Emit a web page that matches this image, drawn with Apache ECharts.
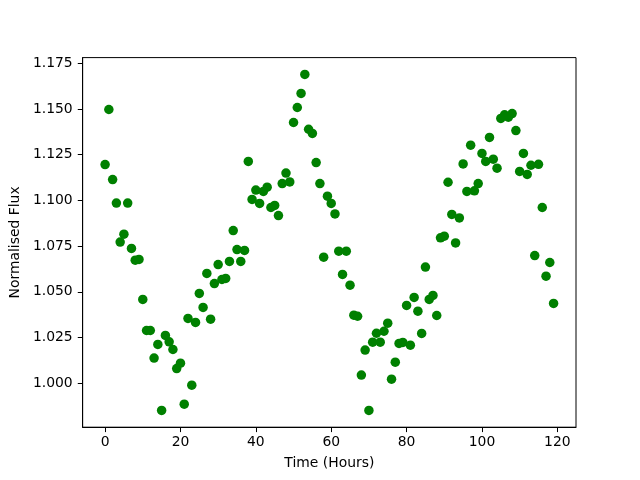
<!DOCTYPE html>
<html>
<head>
<meta charset="utf-8">
<script src="https://cdn.jsdelivr.net/npm/echarts@6/dist/echarts.min.js"></script>
<style>
  html, body { margin: 0; padding: 0; background: #fff; }
  #chart { width: 640px; height: 480px; }
</style>
</head>
<body>
<div id="chart"></div>
<script>
// flux, one reading per hour (0..119)
const hours = Array.from({ length: 120 }, (_, i) => i);
const flux = [
  1.1196, 1.1497, 1.1114, 1.0985, 1.0772, 1.0815, 1.0985, 1.0737, 1.0673, 1.0677,
  1.0458, 1.0288, 1.0288, 1.0137, 1.0212, 0.9851, 1.0261, 1.0226, 1.0184, 1.0080,
  1.0109, 0.9885, 1.0354, 0.9989, 1.0332, 1.0491, 1.0414, 1.0600, 1.0350, 1.0545,
  1.0649, 1.0567, 1.0573, 1.0666, 1.0835, 1.0731, 1.0666, 1.0726, 1.1213, 1.1005,
  1.1056, 1.0983, 1.1049, 1.1072, 1.0961, 1.0972, 1.0917, 1.1092, 1.1149, 1.1101,
  1.1426, 1.1508, 1.1585, 1.1689, 1.1389, 1.1366, 1.1207, 1.1092, 1.0689, 1.1023,
  1.0983, 1.0926, 1.0722, 1.0595, 1.0722, 1.0536, 1.0372, 1.0366, 1.0044, 1.0181,
  0.9851, 1.0224, 1.0273, 1.0224, 1.0284, 1.0328, 1.0022, 1.0115, 1.0217, 1.0223,
  1.0425, 1.0208, 1.0469, 1.0394, 1.0272, 1.0635, 1.0458, 1.0480, 1.0370, 1.0795,
  1.0804, 1.1099, 1.0923, 1.0767, 1.0904, 1.1199, 1.1049, 1.1302, 1.1052, 1.1092,
  1.1257, 1.1213, 1.1344, 1.1225, 1.1176, 1.1448, 1.1468, 1.1455, 1.1475, 1.1382,
  1.1158, 1.1257, 1.1142, 1.1192, 1.0698, 1.1197, 1.0961, 1.0585, 1.0660, 1.0436
];
const xTicks = [0, 20, 40, 60, 80, 100, 120];
const yTicks = [1.000, 1.025, 1.050, 1.075, 1.100, 1.125, 1.150, 1.175];

const chart = echarts.init(document.getElementById('chart'), null, { renderer: 'canvas' });
const font = 'DejaVu Sans';

const option = {
  animation: false,
  backgroundColor: '#fff',
  grid: {
    left: 80,
    right: 64,
    top: 57.6,
    bottom: 52.8,
    show: true,
    borderColor: '#000',
    borderWidth: 1
  },
  xAxis: {
    type: 'value',
    min: -5.95,
    max: 124.95,
    name: 'Time (Hours)',
    nameLocation: 'middle',
    nameGap: 29,
    nameTextStyle: { color: '#000', fontFamily: font, fontSize: 13.9 },
    axisLine: { show: true, onZero: false, lineStyle: { color: '#000', width: 1 } },
    axisTick: { show: true, inside: false, length: 4.9, customValues: xTicks, lineStyle: { color: '#000' } },
    axisLabel: {
      customValues: xTicks,
      margin: 8,
      color: '#000',
      fontFamily: font,
      fontSize: 13.9
    },
    splitLine: { show: false }
  },
  yAxis: {
    type: 'value',
    min: 0.9759,
    max: 1.1781,
    name: 'Normalised Flux',
    nameLocation: 'middle',
    nameGap: 53,
    nameTextStyle: { color: '#000', fontFamily: font, fontSize: 13.9 },
    axisLine: { show: true, onZero: false, lineStyle: { color: '#000', width: 1 } },
    axisTick: { show: true, inside: false, length: 4.9, customValues: yTicks, lineStyle: { color: '#000' } },
    axisLabel: {
      customValues: yTicks,
      margin: 10,
      color: '#000',
      fontFamily: font,
      fontSize: 13.9,
      formatter: v => v.toFixed(3)
    },
    splitLine: { show: false }
  },
  series: [
    {
      type: 'scatter',
      symbol: 'circle',
      symbolSize: 9.5,
      data: hours.map((h, i) => [h, flux[i]]),
      itemStyle: { color: '#008000', opacity: 1 }
    }
  ]
};

chart.setOption(option);
</script>
</body>
</html>
